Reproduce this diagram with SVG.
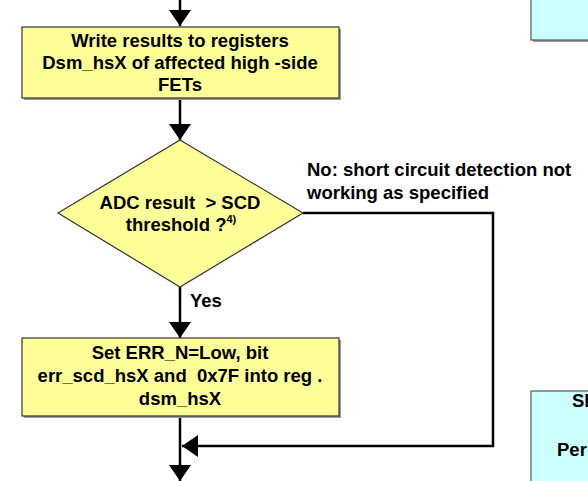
<svg xmlns="http://www.w3.org/2000/svg" width="588" height="481" viewBox="0 0 588 481">
<style>
.box{fill:#FFFF99;stroke:#333;stroke-width:1.2}
.cyan{fill:#CCFFFF;stroke:#555;stroke-width:1.2}
.shadow{fill:#9a9a9a}
.t{font-family:"Liberation Sans",Arial,sans-serif;font-weight:bold;font-size:18.5px;fill:#000}
.c{text-anchor:middle}
.ln{fill:none;stroke:#000;stroke-width:2.5}
</style>
<defs>
<marker id="ah" viewBox="0 0 16 22" refX="16" refY="11" markerWidth="16" markerHeight="22" markerUnits="userSpaceOnUse" orient="auto">
<path d="M0,0 L16,11 L0,22 Z" fill="#000"/>
</marker>
</defs>
<g id="connectors">
<line class="ln" x1="180" y1="0" x2="180" y2="26" marker-end="url(#ah)"/>
<line class="ln" x1="180" y1="98" x2="180" y2="140" marker-end="url(#ah)"/>
<line class="ln" x1="180" y1="287" x2="180" y2="338" marker-end="url(#ah)"/>
<line class="ln" x1="180" y1="416" x2="180" y2="481" marker-end="url(#ah)"/>
<polyline class="ln" points="303,213 493,213 493,446 182,446" marker-end="url(#ah)"/>
<text class="t" x="190" y="307">Yes</text>
<text class="t" x="307" y="176">No: short circuit detection not</text>
<text class="t" x="307" y="199">working as specified</text>
</g>
<g id="write-results">
<rect class="shadow" x="24" y="29" width="317" height="71"/>
<rect class="box" x="22" y="27" width="317" height="71"/>
<text class="t c" x="180" y="47">Write results to registers</text>
<text class="t c" x="180" y="69">Dsm_hsX of affected high -side</text>
<text class="t c" x="180" y="91">FETs</text>
</g>
<g id="adc-decision">
<polygon class="box" points="180,140 303,213 180,287 58,213" stroke="none"/>
<text class="t c" x="180" y="209">ADC result&#160; &gt; SCD</text>
<text class="t c" x="181" y="231">threshold ?<tspan font-size="11" dy="-8">4)</tspan></text>
</g>
<g id="set-err">
<rect class="shadow" x="24" y="340" width="317" height="78"/>
<rect class="box" x="22" y="338" width="317" height="78"/>
<text class="t c" x="180" y="359">Set ERR_N=Low, bit</text>
<text class="t c" x="180" y="382">err_scd_hsX and&#160; 0x7F into reg .</text>
<text class="t c" x="180" y="405">dsm_hsX</text>
</g>
<g id="cyan-top">
<rect class="shadow" x="533" y="-5" width="60" height="47"/>
<rect class="cyan" x="531" y="-6" width="62" height="46"/>
</g>
<g id="cyan-bottom">
<rect class="shadow" x="533" y="393" width="60" height="95"/>
<rect class="cyan" x="531" y="391" width="62" height="95"/>
<text class="t" x="572" y="407">Sh</text>
<text class="t" x="557" y="456">Per</text>
</g>
</svg>
